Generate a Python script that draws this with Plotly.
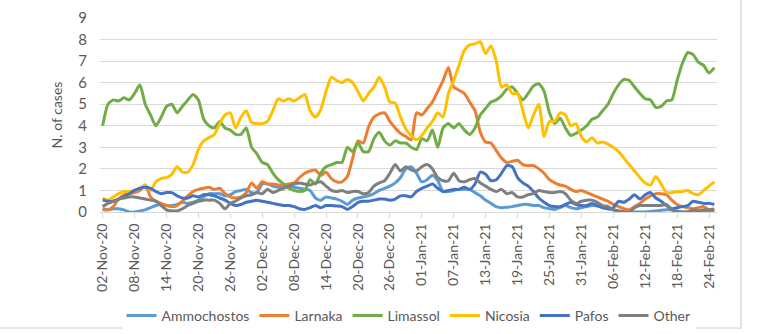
import datetime as dt
import plotly.graph_objects as go

start = dt.date(2020, 11, 2)
n_days = 116
dates = [start + dt.timedelta(days=i) for i in range(n_days)]

ammochostos = [0.15, 0.1, 0.15, 0.15, 0.1, 0.0, 0.0, 0.05, 0.1, 0.2, 0.3, 0.35, 0.3, 0.3, 0.35, 0.45, 0.4, 0.45, 0.55, 0.7,
               0.85, 0.85, 0.85, 0.75, 0.8, 0.95, 1.0, 1.05, 0.9, 0.9, 1.3, 1.3, 1.2, 1.15, 1.15, 1.2, 1.15, 1.1, 1.05, 1.0,
               0.65, 0.55, 0.7, 0.65, 0.6, 0.5, 0.35, 0.55, 0.65, 0.7, 0.75, 0.85, 1.0, 1.1, 1.2, 1.35, 1.6, 2.0, 2.1, 1.8,
               1.4, 1.5, 1.7, 1.45, 0.95, 0.95, 1.0, 1.05, 1.05, 1.05, 0.9, 0.75, 0.55, 0.4, 0.25, 0.2, 0.22, 0.25, 0.3, 0.35,
               0.35, 0.3, 0.3, 0.2, 0.15, 0.12, 0.2, 0.3, 0.2, 0.15, 0.2, 0.25, 0.3, 0.28, 0.2, 0.15, 0.1, 0.05, 0.02, 0.0,
               0.0, 0.0, 0.0, 0.02, 0.05, 0.08, 0.1, 0.1, 0.05, 0.0, 0.0, 0.02, 0.05, 0.05, 0.02, 0.0]

larnaka = [0.1, 0.1, 0.25, 0.6, 0.8, 0.85, 0.9, 1.0, 1.25, 0.7, 0.5, 0.4, 0.3, 0.25, 0.3, 0.5, 0.75, 0.95, 1.05, 1.1,
           1.15, 1.05, 1.1, 0.85, 0.7, 0.65, 0.7, 0.9, 1.35, 1.1, 1.4, 1.3, 1.3, 1.25, 1.25, 1.3, 1.35, 1.6, 1.8, 1.9,
           1.95, 1.7, 1.85, 1.55, 1.4, 1.4, 1.65, 2.5, 3.3, 3.2, 3.95, 4.4, 4.55, 4.6, 4.2, 3.9, 3.65, 3.5, 3.35, 4.6,
           4.5, 4.8, 5.1, 5.6, 6.1, 6.7, 5.8, 5.65, 5.5, 5.1, 4.7, 3.7, 3.25, 3.2, 2.85, 2.5, 2.3, 2.35, 2.4, 2.2,
           2.15, 2.15, 2.0, 1.8, 1.5, 1.35, 1.25, 1.2, 1.05, 0.95, 1.0, 0.9, 0.8, 0.7, 0.6, 0.5, 0.35, 0.25, 0.15, 0.1,
           0.25, 0.4, 0.6, 0.75, 0.85, 0.85, 0.8, 0.55, 0.35, 0.25, 0.2, 0.15, 0.2, 0.25, 0.1, 0.15]

limassol = [4.0, 5.0, 5.2, 5.15, 5.3, 5.2, 5.5, 5.9, 5.0, 4.5, 4.0, 4.4, 4.9, 5.0, 4.6, 4.9, 5.2, 5.45, 5.2, 4.3,
            4.0, 3.9, 4.2, 3.9, 3.8, 3.6, 3.6, 3.9, 3.0, 2.7, 2.3, 2.2, 1.8, 1.5, 1.3, 1.1, 1.0, 0.95, 1.0, 1.5,
            1.3, 1.8, 2.1, 2.2, 2.3, 2.3, 3.0, 2.8, 3.2, 2.8, 2.8, 3.4, 3.7, 3.3, 3.1, 3.3, 3.2, 3.2, 3.0, 2.9,
            3.4, 3.3, 3.8, 3.0, 3.9, 4.1, 3.9, 4.1, 3.8, 3.6, 3.9, 4.5, 4.8, 5.1, 5.2, 5.4, 5.7, 5.8, 5.5, 5.2,
            5.5, 5.85, 5.95, 5.6, 4.6, 4.1, 4.35, 3.9, 3.55, 3.65, 3.8, 4.0, 4.3, 4.4, 4.7, 5.0, 5.5, 5.9, 6.15, 6.1,
            5.8, 5.5, 5.25, 5.2, 4.85, 4.9, 5.15, 5.2, 6.1, 6.9, 7.4, 7.3, 6.95, 6.8, 6.45, 6.7]

nicosia = [0.65, 0.55, 0.7, 0.85, 0.95, 0.95, 1.0, 1.1, 1.25, 1.0, 1.4, 1.55, 1.6, 1.75, 2.1, 1.85, 1.85, 2.2, 2.9, 3.3,
           3.45, 3.6, 4.1, 4.5, 4.6, 3.9, 4.4, 4.7, 4.15, 4.1, 4.1, 4.2, 4.7, 5.25, 5.15, 5.25, 5.15, 5.3, 5.45, 4.7,
           4.4, 4.75, 5.6, 6.25, 6.1, 6.0, 6.15, 6.0, 5.6, 5.15, 5.5, 5.8, 6.25, 5.8, 5.1, 5.05, 4.4, 3.85, 3.55, 3.35,
           3.55, 3.9, 4.2, 4.6, 4.4, 5.5, 6.1, 6.8, 7.5, 7.75, 7.8, 7.9, 7.35, 7.7, 7.0, 5.8, 5.9, 5.5, 5.5, 4.7,
           3.9, 4.5, 5.0, 3.5, 4.2, 4.2, 4.6, 4.5, 4.0, 4.1, 3.5, 3.25, 3.45, 3.2, 3.25, 3.15, 3.0, 2.8, 2.5, 2.2,
           1.9, 1.6, 1.35, 1.25, 1.65, 1.3, 0.9, 0.9, 0.95, 0.95, 1.0, 0.85, 0.8, 1.0, 1.2, 1.4]

pafos = [0.55, 0.5, 0.5, 0.6, 0.7, 0.85, 1.0, 1.1, 1.15, 1.1, 0.95, 0.85, 0.9, 0.9, 0.75, 0.65, 0.65, 0.75, 0.7, 0.8,
         0.8, 0.75, 0.65, 0.55, 0.4, 0.3, 0.35, 0.45, 0.5, 0.55, 0.5, 0.45, 0.4, 0.35, 0.3, 0.3, 0.25, 0.15, 0.12, 0.2,
         0.3, 0.2, 0.3, 0.3, 0.28, 0.25, 0.12, 0.25, 0.45, 0.5, 0.5, 0.55, 0.6, 0.6, 0.55, 0.6, 0.75, 0.75, 0.7, 0.95,
         1.1, 1.2, 1.3, 1.1, 0.95, 1.0, 1.05, 1.05, 1.15, 1.05, 1.3, 1.85, 1.75, 1.45, 1.5, 1.8, 2.15, 2.1, 1.6, 1.35,
         1.2, 0.95, 0.65, 0.45, 0.3, 0.25, 0.25, 0.35, 0.45, 0.35, 0.3, 0.3, 0.4, 0.3, 0.2, 0.15, 0.2, 0.5, 0.45, 0.6,
         0.8, 0.6, 0.8, 0.9, 0.65, 0.5, 0.3, 0.15, 0.2, 0.25, 0.3, 0.5, 0.45, 0.4, 0.4, 0.35]

other = [0.25, 0.4, 0.5, 0.6, 0.65, 0.7, 0.7, 0.65, 0.6, 0.55, 0.5, 0.3, 0.1, 0.05, 0.05, 0.15, 0.3, 0.4, 0.5, 0.55,
         0.55, 0.55, 0.4, 0.15, 0.4, 0.5, 0.65, 0.75, 0.8, 0.9, 0.85, 1.05, 0.9, 1.0, 1.1, 1.2, 1.3, 1.35, 1.3, 1.25,
         1.35, 1.4, 1.2, 1.0, 0.95, 1.0, 0.9, 0.95, 0.95, 0.85, 0.9, 1.2, 1.35, 1.45, 1.8, 2.2, 1.9, 2.1, 1.95, 1.9,
         2.1, 2.2, 2.0, 1.6, 1.45, 1.45, 1.8, 1.45, 1.4, 1.5, 1.55, 1.35, 1.2, 1.05, 0.95, 1.05, 0.85, 0.9, 0.7, 0.7,
         0.8, 0.85, 1.0, 0.95, 0.9, 0.9, 0.95, 0.85, 0.55, 0.4, 0.5, 0.55, 0.55, 0.45, 0.3, 0.25, 0.1, 0.05, 0.0, 0.0,
         0.2, 0.3, 0.3, 0.3, 0.3, 0.3, 0.35, 0.1, 0.0, 0.0, 0.0, 0.1, 0.05, 0.1, 0.1, 0.1]

series_names = ["Ammochostos", "Larnaka", "Limassol", "Nicosia", "Pafos", "Other"]
series_values = [ammochostos, larnaka, limassol, nicosia, pafos, other]
series_colors = ["#5B9BD5", "#ED7D31", "#70AD47", "#FFC000", "#4472C4", "#7F7F7F"]

tick_dates = dates[::6]
tick_labels = [d.strftime("%d-%b-%y") for d in tick_dates]
y_ticks = list(range(0, 10))

FONT = "Lato, 'Open Sans', sans-serif"

fig = go.Figure()
for name, vals, col in zip(series_names, series_values, series_colors):
    fig.add_trace(go.Scatter(
        x=dates, y=vals, name=name, mode="lines",
        line=dict(color=col, width=3, shape="spline", smoothing=0.6),
    ))

x0 = dt.datetime.combine(dates[0], dt.time()) - dt.timedelta(hours=12)
x1 = dt.datetime.combine(dates[-1], dt.time()) + dt.timedelta(hours=12)

fig.update_layout(
    width=757, height=334,
    margin=dict(l=100, r=40, t=18, b=122, autoexpand=False),
    paper_bgcolor="white", plot_bgcolor="white",
    font=dict(family=FONT, color="#595959", size=14),
    showlegend=True,
    legend=dict(orientation="h", x=0.5, xanchor="center", y=-0.536, yanchor="middle",
                font=dict(size=14, color="#595959"), traceorder="normal",
                itemwidth=30, tracegroupgap=0),
    xaxis=dict(
        range=[x0, x1], tickmode="array", tickvals=tick_dates, ticktext=tick_labels,
        tickangle=-90, showgrid=False, showline=True, linecolor="#D9D9D9", linewidth=1,
        ticks="outside", ticklen=5, tickcolor="#D9D9D9", tickfont=dict(size=14, color="#595959"),
        zeroline=False, automargin=False,
    ),
    yaxis=dict(
        range=[0, 9], tickmode="array", tickvals=y_ticks, showgrid=True, gridcolor="#D9D9D9",
        gridwidth=1, zeroline=False, showline=False, ticks="", tickfont=dict(size=15, color="#595959"),
        ticklabelstandoff=12,
        title=dict(text="N. of cases", font=dict(size=14, color="#595959"), standoff=12),
        automargin=False,
    ),
    shapes=[
        dict(type="line", xref="paper", yref="paper", x0=(741 - 100) / 617, x1=(741 - 100) / 617,
             y0=(212 - 0) / 194, y1=(212 - 329) / 194, line=dict(color="#C8C8C8", width=1)),
        dict(type="line", xref="paper", yref="paper", x0=-100 / 617, x1=(741 - 100) / 617,
             y0=(212 - 328) / 194, y1=(212 - 328) / 194, line=dict(color="#D0D0D0", width=1)),
    ],
)

fig.write_html("out.html")
